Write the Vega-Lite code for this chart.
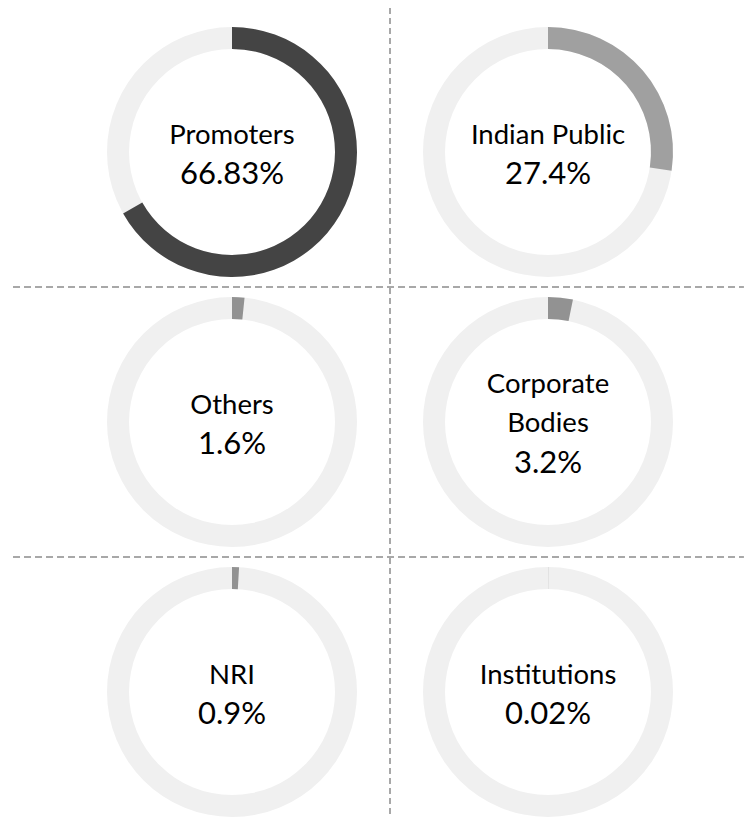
{
  "$schema": "https://vega.github.io/schema/vega-lite/v6.json",
  "width": 744,
  "height": 817,
  "autosize": {"type": "fit", "contains": "padding"},
  "padding": 0,
  "background": "#ffffff",
  "config": {"view": {"stroke": null}},
  "data": {
    "values": [
      {"name": "Promoters", "label": "Promoters", "value": "66.83%", "pct": 66.83, "col": 0, "row": 0, "nlines": 1},
      {"name": "Indian Public", "label": "Indian Public", "value": "27.4%", "pct": 27.4, "col": 1, "row": 0, "nlines": 1},
      {"name": "Others", "label": "Others", "value": "1.6%", "pct": 1.6, "col": 0, "row": 1, "nlines": 1},
      {"name": "Corporate Bodies", "label": "Corporate\nBodies", "value": "3.2%", "pct": 3.2, "col": 1, "row": 1, "nlines": 2},
      {"name": "NRI", "label": "NRI", "value": "0.9%", "pct": 0.9, "col": 0, "row": 2, "nlines": 1},
      {"name": "Institutions", "label": "Institutions", "value": "0.02%", "pct": 0.02, "col": 1, "row": 2, "nlines": 1}
    ]
  },
  "layer": [
    {
      "data": {"values": [{"line": "h1"}]},
      "mark": {"type": "rule", "stroke": "#a8a8a8", "strokeWidth": 2, "strokeDash": [7, 4]},
      "encoding": {
        "y": {"datum": 0.5, "type": "quantitative", "scale": {"domain": [0, 2], "range": [152, 692], "zero": false, "nice": false}, "axis": null},
        "x": {"datum": -0.693, "type": "quantitative", "scale": {"domain": [0, 1], "range": [232, 548], "zero": false, "nice": false}, "axis": null},
        "x2": {"datum": 1.62}
      }
    },
    {
      "data": {"values": [{"line": "h2"}]},
      "mark": {"type": "rule", "stroke": "#a8a8a8", "strokeWidth": 2, "strokeDash": [7, 4]},
      "encoding": {
        "y": {"datum": 1.5, "type": "quantitative", "axis": null},
        "x": {"datum": -0.693, "type": "quantitative", "axis": null},
        "x2": {"datum": 1.62}
      }
    },
    {
      "data": {"values": [{"line": "v"}]},
      "mark": {"type": "rule", "stroke": "#a8a8a8", "strokeWidth": 2, "strokeDash": [6, 4]},
      "encoding": {
        "x": {"datum": 0.5, "type": "quantitative", "axis": null},
        "y": {"datum": -0.533, "type": "quantitative", "axis": null},
        "y2": {"datum": 2.47}
      }
    },
    {
      "mark": {"type": "arc", "radius": 125, "radius2": 103, "color": "#f0f0f0"},
      "encoding": {
        "x": {"field": "col", "type": "quantitative", "axis": null},
        "y": {"field": "row", "type": "quantitative", "axis": null},
        "theta": {"datum": 100, "type": "quantitative", "stack": null, "scale": {"domain": [0, 100], "range": [0, 6.283185307]}}
      }
    },
    {
      "mark": {"type": "arc", "radius": 125, "radius2": 103},
      "encoding": {
        "x": {"field": "col", "type": "quantitative", "axis": null},
        "y": {"field": "row", "type": "quantitative", "axis": null},
        "theta": {"field": "pct", "type": "quantitative", "stack": null},
        "color": {
          "field": "name",
          "type": "nominal",
          "legend": null,
          "scale": {
            "domain": ["Promoters", "Indian Public", "Others", "Corporate Bodies", "NRI", "Institutions"],
            "range": ["#444444", "#a0a0a0", "#929292", "#929292", "#929292", "#929292"]
          }
        }
      }
    },
    {
      "transform": [{"filter": "datum.nlines == 1"}],
      "mark": {"type": "text", "font": "Lato", "fontSize": 27.5, "color": "#000000", "baseline": "middle", "align": "center", "dy": -16},
      "encoding": {
        "x": {"field": "col", "type": "quantitative", "axis": null},
        "y": {"field": "row", "type": "quantitative", "axis": null},
        "text": {"field": "label", "type": "nominal"}
      }
    },
    {
      "transform": [{"filter": "datum.nlines == 2"}],
      "mark": {"type": "text", "font": "Lato", "fontSize": 27.5, "color": "#000000", "baseline": "middle", "align": "center", "dy": -37, "lineBreak": "\n", "lineHeight": 39},
      "encoding": {
        "x": {"field": "col", "type": "quantitative", "axis": null},
        "y": {"field": "row", "type": "quantitative", "axis": null},
        "text": {"field": "label", "type": "nominal"}
      }
    },
    {
      "transform": [{"filter": "datum.nlines == 1"}],
      "mark": {"type": "text", "font": "Lato", "fontSize": 31, "color": "#000000", "baseline": "middle", "align": "center", "dy": 23},
      "encoding": {
        "x": {"field": "col", "type": "quantitative", "axis": null},
        "y": {"field": "row", "type": "quantitative", "axis": null},
        "text": {"field": "value", "type": "nominal"}
      }
    },
    {
      "transform": [{"filter": "datum.nlines == 2"}],
      "mark": {"type": "text", "font": "Lato", "fontSize": 31, "color": "#000000", "baseline": "middle", "align": "center", "dy": 42},
      "encoding": {
        "x": {"field": "col", "type": "quantitative", "axis": null},
        "y": {"field": "row", "type": "quantitative", "axis": null},
        "text": {"field": "value", "type": "nominal"}
      }
    }
  ]
}
